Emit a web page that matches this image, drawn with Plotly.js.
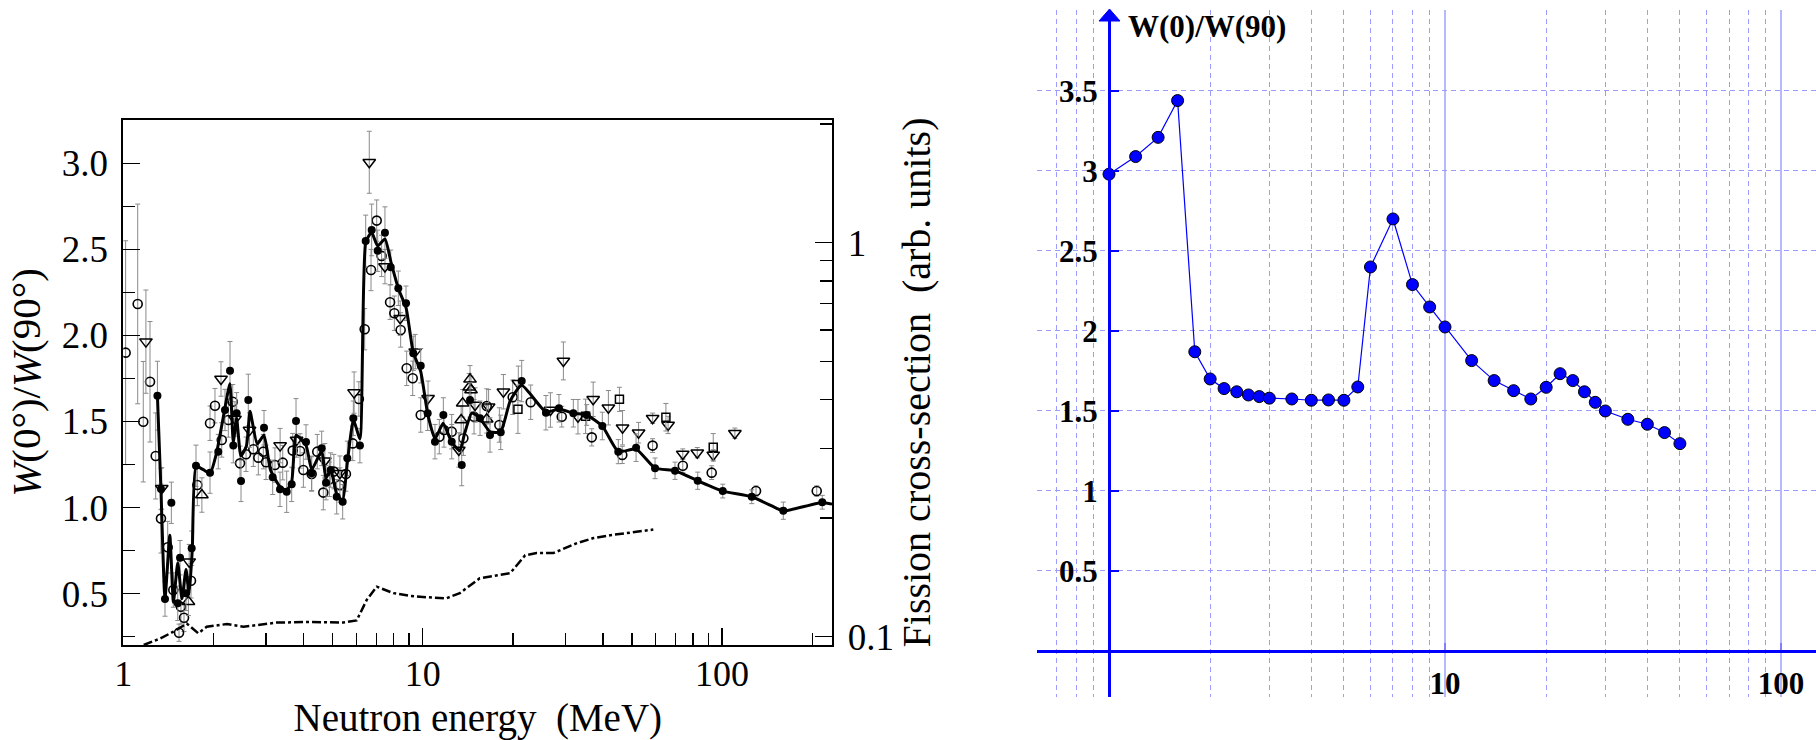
<!DOCTYPE html>
<html>
<head>
<meta charset="utf-8">
<script src="https://cdn.plot.ly/plotly-3.0.1.min.js"></script>
<style>
html,body{margin:0;padding:0;background:#fff;}
#chart{width:1816px;height:740px;}
</style>
</head>
<body>
<div id="chart"></div>
<script>
// ---------------- LEFT PANEL DATA ----------------
// filled circles (black)
const fcE = [1.30,1.336,1.378,1.447,1.52,1.547,1.62,1.692,1.749,1.948,2.076,2.186,2.272,2.33,2.391,2.473,2.615,2.951,3.155,3.337,3.513,3.651,3.775,4.076,4.257,4.598,4.754,4.928,5.161,5.404,5.60,5.865,6.17,6.45,6.753,7.073,7.48,7.82,8.29,8.796,9.30,9.85,10.39,10.99,11.72,12.50,13.5,14.39,15.54,16.78,18.22,21.41,25.8,28.52,31.85,35.3,39.8,45.0,51.6,59.7,69.6,82.9,100.5,125.6,160.1,216];
const fcW = [1.65,1.108,0.469,1.028,0.444,0.709,0.502,0.764,1.243,1.203,1.325,1.567,1.795,1.36,1.548,1.155,1.625,1.464,1.176,1.106,1.092,1.135,1.503,1.381,1.199,1.344,1.145,1.218,1.063,1.034,1.286,1.519,1.36,2.549,2.613,2.492,2.597,2.396,2.274,2.187,1.896,1.824,1.548,1.383,1.538,1.383,1.247,1.625,1.519,1.422,1.437,1.735,1.551,1.577,1.548,1.538,1.474,1.325,1.348,1.228,1.214,1.156,1.096,1.063,0.982,1.031];
const fcErr = [0.2,0.12,0.1,0.12,0.1,0.1,0.1,0.1,0.12,0.12,0.1,0.12,0.17,0.1,0.12,0.12,0.15,0.1,0.1,0.1,0.12,0.1,0.13,0.1,0.1,0.1,0.1,0.1,0.1,0.1,0.1,0.1,0.1,0.15,0.15,0.12,0.15,0.1,0.1,0.1,0.1,0.1,0.1,0.1,0.1,0.1,0.12,0.1,0.1,0.1,0.1,0.12,0.1,0.08,0.08,0.06,0.08,0.07,0.08,0.06,0.05,0.05,0.04,0.04,0.05,0.04];
// open circles
const ocE = [1.018,1.117,1.166,1.228,1.283,1.336,1.407,1.469,1.535,1.558,1.595,1.683,1.767,1.948,2.024,2.132,2.243,2.32,2.454,2.57,2.718,2.825,2.935,2.997,3.21,3.408,3.68,3.893,3.994,4.257,4.445,4.656,4.88,5.05,5.29,5.54,5.84,6.12,6.40,6.72,7.02,7.29,7.78,8.04,8.44,8.84,9.26,9.85,11.36,11.78,12.5,13.67,14.84,16.36,18.03,19.98,22.95,29.13,36.7,46.4,58.6,73.9,92.3,129.8,207];
const ocW = [1.90,2.183,1.499,1.731,1.30,0.936,0.77,0.521,0.273,0.424,0.36,0.575,1.131,1.49,1.592,1.393,1.509,1.615,1.257,1.31,1.339,1.29,1.325,1.263,1.247,1.261,1.331,1.329,1.218,1.195,1.325,1.087,1.164,1.209,1.131,1.195,1.373,1.631,2.036,2.38,2.667,2.462,2.193,2.129,2.032,1.809,1.751,1.538,1.412,1.451,1.441,1.403,1.528,1.59,1.48,1.641,1.612,1.528,1.408,1.306,1.36,1.243,1.203,1.096,1.096];
const ocErr = [0.65,0.58,0.35,0.35,0.25,0.2,0.15,0.1,0.05,0.1,0.08,0.1,0.12,0.1,0.1,0.1,0.1,0.1,0.1,0.1,0.1,0.1,0.1,0.1,0.1,0.1,0.1,0.1,0.1,0.1,0.1,0.1,0.1,0.1,0.1,0.1,0.1,0.1,0.12,0.12,0.12,0.12,0.1,0.1,0.1,0.1,0.1,0.1,0.1,0.1,0.1,0.1,0.1,0.1,0.1,0.1,0.1,0.06,0.05,0.05,0.04,0.04,0.04,0.03,0.03];
// open down-triangles
const dtE = [1.19,1.344,1.66,2.12,2.36,2.64,3.34,3.79,4.71,5.29,5.9,6.63,7.48,8.41,9.44,10.42,13.2,14.96,16.6,18.6,20.86,26.7,29.5,33.0,37.1,41.7,46.5,52.6,58.6,66.0,73.9,82.6,93.4,110.3];
const dtW = [1.964,1.112,0.686,1.747,1.515,1.45,1.36,1.393,1.272,1.2,1.668,3.006,2.40,2.10,1.906,1.635,1.335,1.596,1.586,1.673,1.722,1.567,1.852,1.528,1.629,1.58,1.464,1.435,1.519,1.48,1.311,1.319,1.306,1.432];
const dtErr = [0.3,0.12,0.1,0.1,0.1,0.1,0.1,0.1,0.1,0.1,0.12,0.18,0.1,0.1,0.1,0.1,0.1,0.1,0.1,0.1,0.1,0.1,0.11,0.1,0.1,0.1,0.1,0.06,0.03,0.05,0.03,0.03,0.03,0.03];
// open up-triangles
const utE = [1.65,1.83,13.44,13.6,14.3,14.39,14.5,16.36];
const utW = [0.453,1.073,1.509,1.606,1.699,1.745,1.683,1.513];
const utErr = [0.08,0.1,0.08,0.08,0.08,0.08,0.08,0.08];
// open squares
const sqE = [20.8,35.0,45.4,64.9,93.4];
const sqW = [1.571,1.53,1.629,1.525,1.35];
const sqErr = [0.14,0.1,0.07,0.08,0.08];
// smooth curve through the data
const lnE = [1.30,1.336,1.378,1.43,1.47,1.52,1.57,1.62,1.66,1.70,1.75,1.85,1.95,2.05,2.17,2.27,2.33,2.39,2.47,2.58,2.65,2.80,2.95,3.10,3.34,3.51,3.65,3.78,4.08,4.26,4.60,4.75,4.93,5.16,5.40,5.60,5.87,6.17,6.45,6.75,7.07,7.48,7.85,8.30,8.80,9.30,9.85,10.4,11.0,11.7,12.5,13.3,13.8,14.6,15.5,16.8,18.2,19.6,21.4,25.8,28.5,31.9,35.3,39.8,45,51.6,59.7,69.6,82.9,100.5,125.6,152,160,216,233];
const lnW = [1.65,1.10,0.47,0.84,0.45,0.68,0.47,0.64,0.50,0.76,1.24,1.22,1.20,1.32,1.55,1.72,1.38,1.52,1.30,1.36,1.56,1.37,1.42,1.22,1.12,1.10,1.15,1.42,1.36,1.22,1.33,1.17,1.22,1.08,1.04,1.26,1.51,1.40,2.54,2.60,2.52,2.56,2.42,2.27,2.16,1.90,1.79,1.54,1.40,1.49,1.38,1.33,1.43,1.55,1.52,1.44,1.44,1.62,1.71,1.555,1.573,1.548,1.538,1.474,1.325,1.34,1.23,1.214,1.156,1.096,1.063,0.996,0.98,1.03,1.02];
// fission cross-section (right axis, arb. units)
const fsE = [1.17,1.33,1.47,1.63,1.78,1.90,2.22,2.52,3.25,4.2,5.43,6.02,6.5,7.02,7.98,9.07,10.3,12.0,13.3,15.5,19.6,22.0,24.0,27.3,32.6,37.2,42.3,48.0,58.9];
const fsV = [0.0953,0.099,0.103,0.108,0.102,0.106,0.1077,0.106,0.1086,0.109,0.1087,0.110,0.124,0.134,0.129,0.127,0.126,0.1252,0.129,0.1407,0.145,0.161,0.163,0.163,0.1726,0.178,0.181,0.183,0.187];

// left axes ticks
const lxTicks = [1,10,100];
const lxTickText = ['1','10','100'];
const lxMinor = [2,3,4,5,6,7,8,9,20,30,40,50,60,70,80,90,200];
const lyTicks = [0.5,1.0,1.5,2.0,2.5,3.0];
const lyTickText = ['0.5','1.0','1.5','2.0','2.5','3.0'];
const lyMinor = [0.25,0.75,1.25,1.75,2.25,2.75];
const ryTicks = [0.1,1];
const ryTickText = ['0.1','1'];
const ryMinor = [0.2,0.3,0.4,0.5,0.6,0.7,0.8,0.9,2];

// ---------------- RIGHT PANEL DATA ----------------
const rE = [1,1.2,1.4,1.6,1.8,2.0,2.2,2.4,2.6,2.8,3.0,3.5,4.0,4.5,5.0,5.5,6,7,8,9,10,12,14,16,18,20,22,24,26,28,30,35,40,45,50];
const rW = [2.98,3.09,3.21,3.44,1.87,1.70,1.64,1.62,1.60,1.59,1.58,1.575,1.567,1.569,1.567,1.65,2.40,2.70,2.29,2.15,2.025,1.815,1.69,1.627,1.575,1.648,1.733,1.69,1.62,1.554,1.50,1.448,1.417,1.365,1.296];
const rxTicks = [10,100];
const rxTickText = ['10','100'];
const rxMinor = [0.7,0.8,0.9,2,3,4,5,6,7,8,9,20,30,40,50,60,70,80,90];
const ryTicks2 = [0.5,1,1.5,2,2.5,3,3.5];
const ryTickText2 = ['0.5','1','1.5','2','2.5','3','3.5'];

// ---------------- geometry helpers (page pixels -> paper) ----------------
const W = 1816, H = 740;
const px = p => p / W;
const py = p => (H - p) / H;

const serif = 'Liberation Serif, Times New Roman, serif';
const grey = '#8a8a8a';
function eb(arr){return {type:'data', array:arr, color:grey, thickness:1, width:2.5};}

const traces = [
  {x:ocE, y:ocW, mode:'markers', type:'scatter', xaxis:'x', yaxis:'y', error_y:eb(ocErr),
   marker:{symbol:'circle-open', size:9, color:'#000', line:{width:1.6, color:'#000'}}},
  {x:dtE, y:dtW, mode:'markers', type:'scatter', xaxis:'x', yaxis:'y', error_y:eb(dtErr),
   marker:{symbol:'triangle-down-open', size:11, color:'#000', line:{width:1.5, color:'#000'}}},
  {x:utE, y:utW, mode:'markers', type:'scatter', xaxis:'x', yaxis:'y', error_y:eb(utErr),
   marker:{symbol:'triangle-up-open', size:11, color:'#000', line:{width:1.5, color:'#000'}}},
  {x:sqE, y:sqW, mode:'markers', type:'scatter', xaxis:'x', yaxis:'y', error_y:eb(sqErr),
   marker:{symbol:'square-open', size:8, color:'#000', line:{width:1.5, color:'#000'}}},
  {x:fcE, y:fcW, mode:'markers', type:'scatter', xaxis:'x', yaxis:'y', error_y:eb(fcErr),
   marker:{symbol:'circle', size:8, color:'#000'}},
  {x:lnE, y:lnW, mode:'lines', type:'scatter', xaxis:'x', yaxis:'y',
   line:{color:'#000', width:3, shape:'spline', smoothing:0.5}},
  {x:fsE, y:fsV, mode:'lines', type:'scatter', xaxis:'x', yaxis:'y3',
   line:{color:'#000', width:2.5, dash:'dashdot'}},
  {x:rE, y:rW, mode:'lines+markers', type:'scatter', xaxis:'x2', yaxis:'y2',
   line:{color:'#0000ff', width:1.2},
   marker:{symbol:'circle', size:12, color:'#0000ff', line:{color:'#000', width:1}}}
];

const gridDash = '#9c9cff';
const layout = {
  width:W, height:H,
  margin:{l:0,r:0,t:0,b:0},
  paper_bgcolor:'#fff', plot_bgcolor:'rgba(0,0,0,0)',
  showlegend:false,
  font:{family:serif, color:'#000'},
  xaxis:{
    type:'log', domain:[px(123.3), px(832.3)], range:[0, 2.368], anchor:'y',
    showline:true, linecolor:'#000', linewidth:2, mirror:true,
    ticks:'inside', ticklen:17, tickwidth:1.5, tickcolor:'#000',
    tickmode:'array', tickvals:lxTicks, ticktext:lxTickText,
    minor:{tickmode:'array', tickvals:lxMinor, ticks:'inside', ticklen:12, tickwidth:1.5, tickcolor:'#000', showgrid:false},
    showgrid:false, zeroline:false, automargin:false,
    tickfont:{family:serif, size:36, color:'#000'}, ticklabelstandoff:-4,
    title:{text:'Neutron energy\u00a0 (MeV)', font:{family:serif, size:39, color:'#000'}, standoff:18}
  },
  yaxis:{
    domain:[py(645), py(120)], range:[0.2018, 3.2515], anchor:'x',
    showline:true, linecolor:'#000', linewidth:2,
    ticks:'inside', ticklen:17, tickwidth:1.5, tickcolor:'#000',
    tickmode:'array', tickvals:lyTicks, ticktext:lyTickText,
    minor:{tickmode:'array', tickvals:lyMinor, ticks:'inside', ticklen:12, tickwidth:1.5, tickcolor:'#000', showgrid:false},
    showgrid:false, zeroline:false, automargin:false,
    tickfont:{family:serif, size:37, color:'#000'}, ticklabelstandoff:6,
    title:{text:'<i>W</i>(0°)/<i>W</i>(90°)', font:{family:serif, size:41, color:'#000'}, standoff:8}
  },
  yaxis3:{
    type:'log', overlaying:'y', side:'right', anchor:'x', range:[-1.021, 0.3114],
    showline:true, linecolor:'#000', linewidth:2,
    ticks:'inside', ticklen:17, tickwidth:1.5, tickcolor:'#000',
    tickmode:'array', tickvals:ryTicks, ticktext:ryTickText,
    minor:{tickmode:'array', tickvals:ryMinor, ticks:'inside', ticklen:12, tickwidth:1.5, tickcolor:'#000', showgrid:false},
    showgrid:false, zeroline:false, automargin:false,
    tickfont:{family:serif, size:37, color:'#000'}, ticklabelstandoff:6,
    title:{text:'Fission cross-section\u00a0 (arb. units)', font:{family:serif, size:40, color:'#000'}, standoff:8}
  },
  xaxis2:{
    type:'log', domain:[px(1037), 1], range:[-0.2143, 2.104], anchor:'free', position:py(651),
    showline:true, linecolor:'#0000ff', linewidth:2.5,
    ticks:'inside', ticklen:7, tickwidth:2, tickcolor:'#8080ff',
    tickmode:'array', tickvals:rxTicks, ticktext:rxTickText,
    showgrid:true, gridcolor:'#b8b8ff', gridwidth:2,
    minor:{tickmode:'array', tickvals:rxMinor, ticks:'', showgrid:true, gridcolor:gridDash, gridwidth:1, griddash:'5px,4px'},
    zeroline:false, automargin:false,
    tickfont:{family:serif, size:31, color:'#000', weight:'bold'}, ticklabelstandoff:4
  },
  yaxis2:{
    domain:[py(697), py(10)], range:[-0.2875, 4.006], anchor:'free', position:px(1109),
    showline:true, linecolor:'#0000ff', linewidth:2.5,
    ticks:'inside', ticklen:8, tickwidth:2, tickcolor:'#0000ff',
    tickmode:'array', tickvals:ryTicks2, ticktext:ryTickText2,
    showgrid:true, gridcolor:gridDash, gridwidth:1, griddash:'5px,4px',
    zeroline:false, automargin:false,
    tickfont:{family:serif, size:31, color:'#000', weight:'bold'}, ticklabelstandoff:4
  },
  shapes:[
    {type:'path', xref:'paper', yref:'paper',
     path:'M '+px(1099)+','+py(21)+' L '+px(1109.5)+','+py(9)+' L '+px(1120)+','+py(21)+' Z',
     fillcolor:'#0000ff', line:{color:'#0000ff', width:1}}
  ],
  annotations:[
    {xref:'paper', yref:'paper', x:px(1126), y:py(27), xanchor:'left', yanchor:'middle', showarrow:false,
     text:'<b>W(0)/W(90)</b>', font:{family:serif, size:31, color:'#000'}}
  ]
};

Plotly.newPlot('chart', traces, layout, {displayModeBar:false, staticPlot:true});
</script>
</body>
</html>
